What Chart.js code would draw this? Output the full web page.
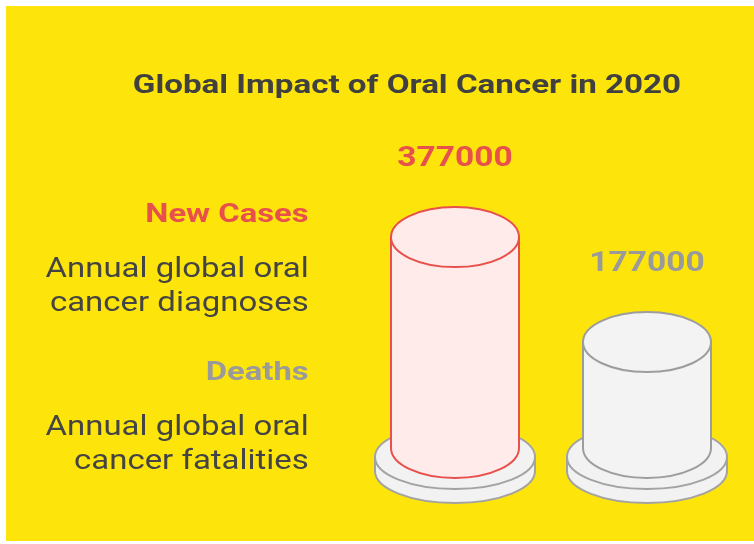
<!DOCTYPE html>
<html>
<head>
<meta charset="utf-8">
<script src="https://cdn.jsdelivr.net/npm/chart.js@4"></script>
<style>
  html, body { margin: 0; padding: 0; background: #fff; }
  body { width: 754px; height: 544px; position: relative; overflow: hidden; font-family: Roboto, "Noto Sans", sans-serif; }
  #panel { position: absolute; left: 6px; top: 6px; width: 748px; height: 535px; background: #fde50b; }
  #chart { position: absolute; left: 0; top: 0; }
  .title { position: absolute; left: 0; top: 69px; width: 814px; text-align: center; font-size: 26px; font-weight: 700; color: #404040; transform: scaleX(1.275); transform-origin: 407px 0; }
  .side { position: absolute; right: 445px; text-align: right; white-space: nowrap; transform-origin: right top; }
  .label { font-size: 26px; font-weight: 700; transform: scaleX(1.26); }
  .desc { font-size: 27px; line-height: 34px; color: #444; transform: scaleX(1.22); }
</style>
</head>
<body>
<div id="panel"></div>
<canvas id="chart" width="754" height="544"></canvas>
<div id="texts"></div>
<script>
const categories = ['New Cases', 'Deaths'];
const values = [377000, 177000];
const descriptions = [
    ['Annual global oral', 'cancer diagnoses'],
    ['Annual global oral', 'cancer fatalities']
];
const chartTitle = 'Global Impact of Oral Cancer in 2020';

// couleurs par série
const COLORS = [
    { stroke: '#e8504c', fill: '#feebea', text: '#e8504c' },
    { stroke: '#9d9d9d', fill: '#f3f3f3', text: '#9a9a9a' }
];
const PLATE = { stroke: '#a3a3a3', fill: '#f2f2f2' };

// textes HTML à gauche
const texts = document.getElementById('texts');
const labelTops = [198, 356];
const descTops = [251, 409];
texts.innerHTML = `<div class="title">${chartTitle}</div>` + categories.map((cat, i) => `
    <div class="side label" style="top:${labelTops[i]}px;color:${COLORS[i].text}">${cat}</div>
    <div class="side desc" style="top:${descTops[i]}px">${descriptions[i].join('<br>')}</div>
`).join('');

function ellipsePath(ctx, cx, cy, rx, ry) {
    ctx.beginPath();
    ctx.ellipse(cx, cy, rx, ry, 0, 0, Math.PI * 2);
}

// dessine les cylindres à partir des barres calculées par Chart.js
const cylinderPlugin = {
    id: 'cylinders',
    afterDatasetsDraw(chart) {
        const ctx = chart.ctx;
        const meta = chart.getDatasetMeta(0);
        const bottom = chart.scales.y.getPixelForValue(chart.scales.y.min);
        ctx.save();
        ctx.lineWidth = 2;
        meta.data.forEach((bar, i) => {
            const c = COLORS[i];
            const cx = bar.x;
            const rx = bar.width / 2;
            const ry = 30;
            const top = bar.y;

            // socle (deux disques)
            const prx = rx + 16, pry = 32, pTop = bottom + 9, pThick = 14;
            ctx.fillStyle = PLATE.fill;
            ctx.strokeStyle = PLATE.stroke;
            ellipsePath(ctx, cx, pTop + pThick, prx, pry);
            ctx.fill(); ctx.stroke();
            ctx.fillRect(cx - prx, pTop, prx * 2, pThick);
            ctx.beginPath();
            ctx.moveTo(cx - prx, pTop); ctx.lineTo(cx - prx, pTop + pThick);
            ctx.moveTo(cx + prx, pTop); ctx.lineTo(cx + prx, pTop + pThick);
            ctx.stroke();
            ellipsePath(ctx, cx, pTop, prx, pry);
            ctx.fill(); ctx.stroke();

            // corps
            ctx.fillStyle = c.fill;
            ctx.strokeStyle = c.stroke;
            ctx.beginPath();
            ctx.moveTo(cx - rx, top);
            ctx.lineTo(cx - rx, bottom);
            ctx.ellipse(cx, bottom, rx, ry, 0, Math.PI, 0, true);
            ctx.lineTo(cx + rx, top);
            ctx.closePath();
            ctx.fill(); ctx.stroke();
            ellipsePath(ctx, cx, top, rx, ry);
            ctx.fill(); ctx.stroke();

            // valeur (texte étiré comme l'original)
            ctx.save();
            ctx.translate(cx, top - 78);
            ctx.scale(1.24, 1);
            ctx.fillStyle = c.text;
            ctx.font = '700 27px Roboto';
            ctx.textAlign = 'center';
            ctx.textBaseline = 'middle';
            ctx.fillText(String(values[i]), 0, 0);
            ctx.restore();
        });
        ctx.restore();
    }
};

new Chart(document.getElementById('chart'), {
    type: 'bar',
    data: {
        labels: categories,
        datasets: [{
            data: values,
            backgroundColor: 'rgba(0,0,0,0)',
            borderWidth: 0,
            barPercentage: 1,
            categoryPercentage: 0.6667
        }]
    },
    options: {
        responsive: false,
        animation: false,
        layout: { padding: { left: 359, right: 11, top: 225, bottom: 96 } },
        scales: {
            x: { display: false },
            y: { display: false, min: -25000, max: 400000 }
        },
        plugins: { legend: { display: false }, tooltip: { enabled: false } }
    },
    plugins: [cylinderPlugin]
});
</script>
</body>
</html>
